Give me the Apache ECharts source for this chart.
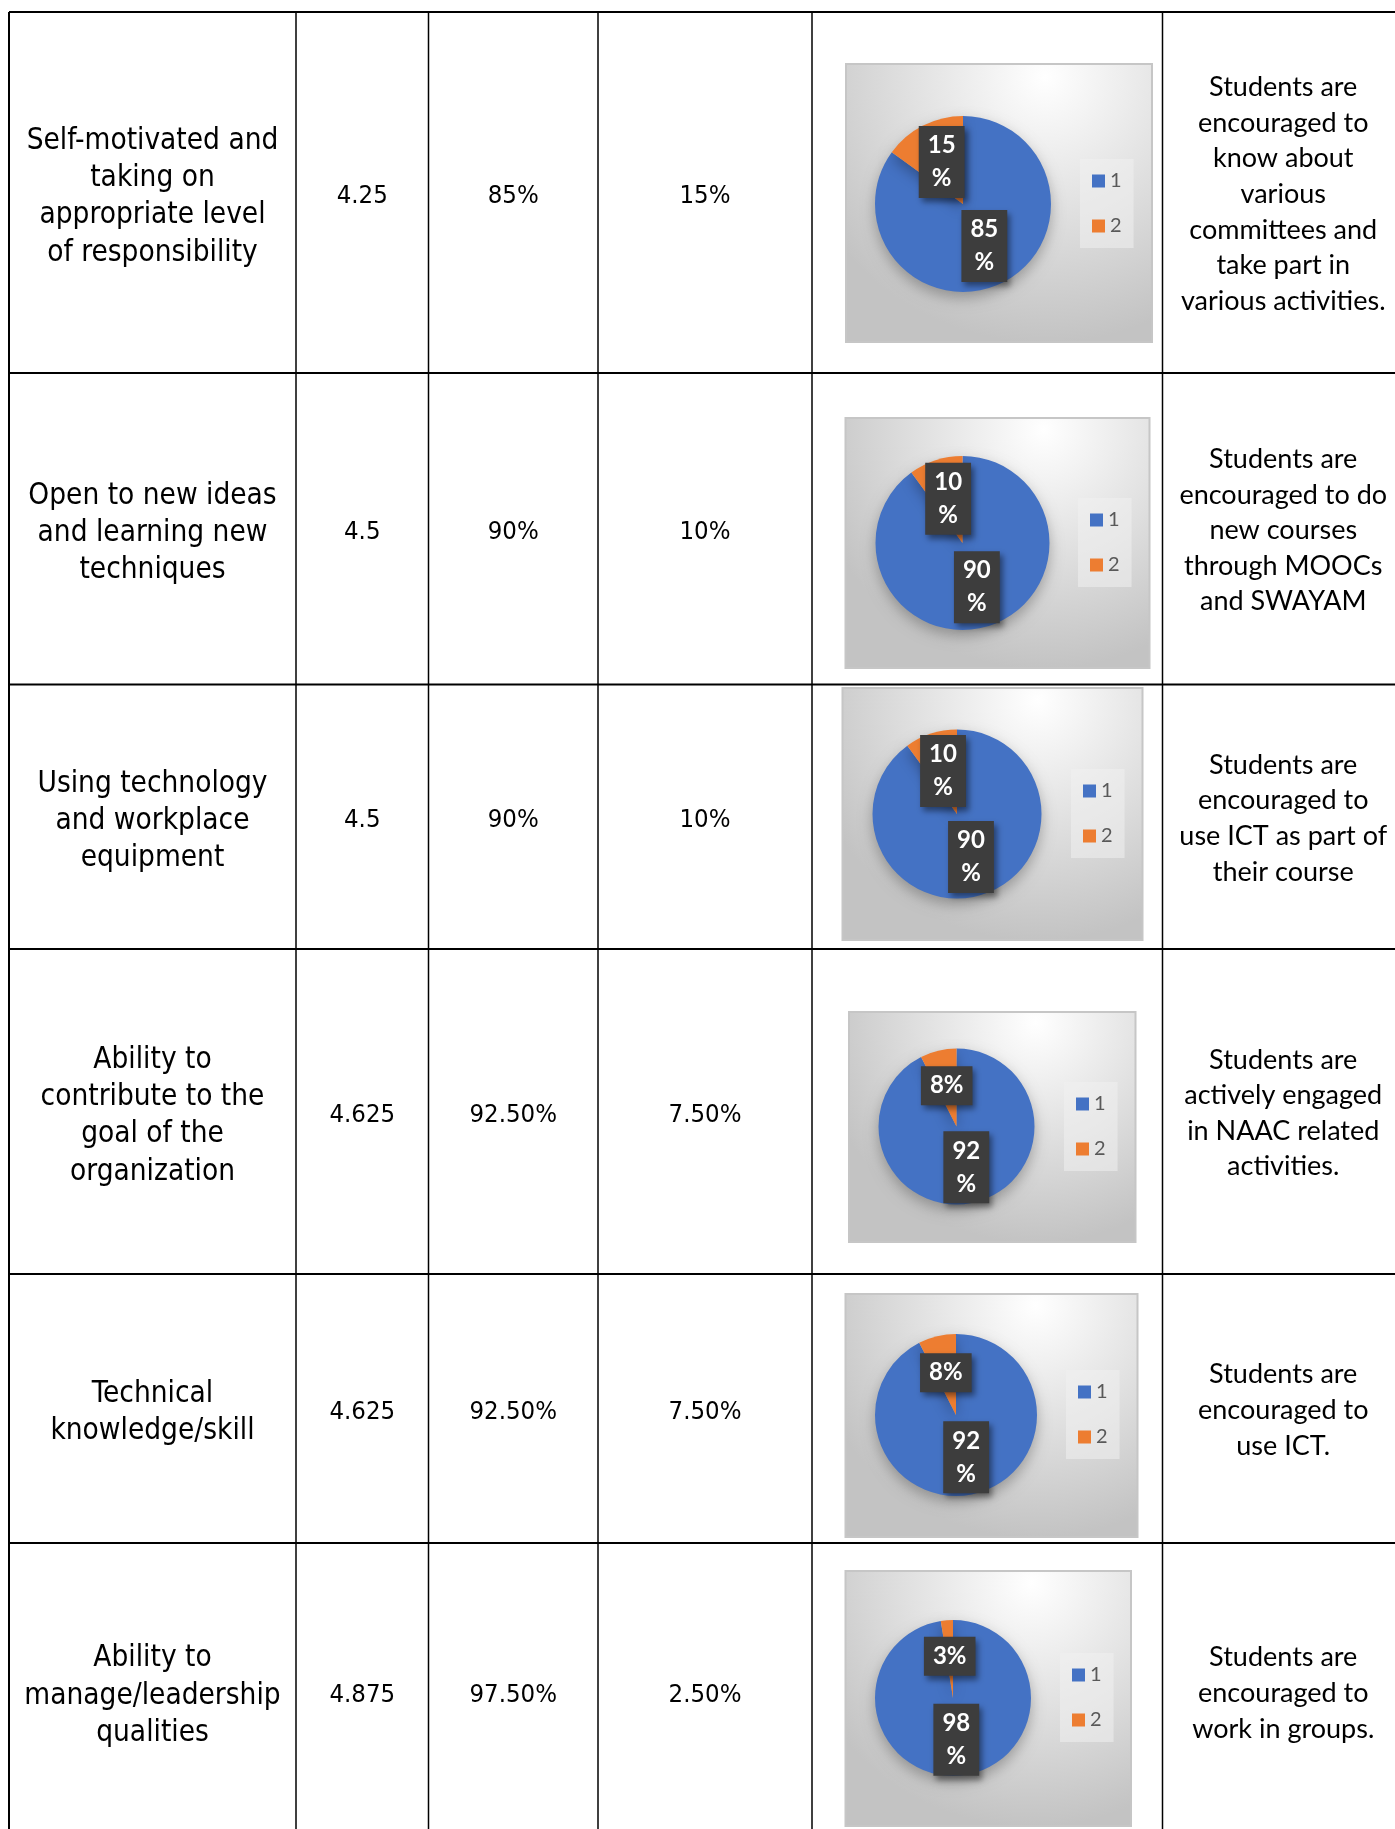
<!DOCTYPE html>
<html>
<head>
<meta charset="utf-8">
<script src="https://cdn.jsdelivr.net/npm/echarts@6/dist/echarts.min.js"></script>
<style>
  html, body { margin: 0; padding: 0; background: #fff; }
  #sheet { width: 1395px; height: 1829px; }
</style>
</head>
<body>
<div id="sheet"></div>
<script>
// table data
const attributes = [
  'Self-motivated and\ntaking on\nappropriate level\nof responsibility',
  'Open to new ideas\nand learning new\ntechniques',
  'Using technology\nand workplace\nequipment',
  'Ability to\ncontribute to the\ngoal of the\norganization',
  'Technical\nknowledge/skill',
  'Ability to\nmanage/leadership\nqualities'
]
const meanScores = ['4.25', '4.5', '4.5', '4.625', '4.625', '4.875']
const agreePct = ['85%', '90%', '90%', '92.50%', '92.50%', '97.50%']
const disagreePct = ['15%', '10%', '10%', '7.50%', '7.50%', '2.50%']
const remarks = [
  'Students are\nencouraged to\nknow about\nvarious\ncommittees and\ntake part in\nvarious activities.',
  'Students are\nencouraged to do\nnew courses\nthrough MOOCs\nand SWAYAM',
  'Students are\nencouraged to\nuse ICT as part of\ntheir course',
  'Students are\nactively engaged\nin NAAC related\nactivities.',
  'Students are\nencouraged to\nuse ICT.',
  'Students are\nencouraged to\nwork in groups.'
]

// pie data
const sliceNames = ['1', '2']
const pieValues = [[85, 15], [90, 10], [90, 10], [92.5, 7.5], [92.5, 7.5], [97.5, 2.5]]
const pieLabels = [
  ['85\n%', '15\n%'],
  ['90\n%', '10\n%'],
  ['90\n%', '10\n%'],
  ['92\n%', '8%'],
  ['92\n%', '8%'],
  ['98\n%', '3%']
]

// layout (pixels)
const colEdges = [9, 296, 428.5, 598, 812, 1162.5, 1404]
const rowEdges = [12, 373, 684.5, 949, 1274, 1543, 1840]
const chartBoxes = [
  [846, 64, 306, 278],
  [845.5, 418, 304, 250],
  [842.5, 688, 300, 252],
  [849, 1012, 286.5, 230],
  [845.5, 1294, 292, 243],
  [845.5, 1571, 285.5, 255]
]
const pieCenters = [[963, 204], [962.5, 543], [957, 814], [956.5, 1126.5], [956, 1415], [953, 1698]]
const pieRadius = [88, 87, 84.5, 78, 81, 78]
const legendPos = [[1080, 159], [1078, 498], [1071, 769], [1064, 1082], [1066, 1370], [1060, 1653]]

const chart = echarts.init(document.getElementById('sheet'))

const graphics = []
// chart backgrounds
chartBoxes.forEach(b => {
  graphics.push({
    type: 'rect',
    z: 0,
    shape: { x: b[0], y: b[1], width: b[2], height: b[3] },
    style: {
      fill: {
        type: 'radial', x: 0.65, y: 0.05, r: 0.95,
        colorStops: [
          { offset: 0, color: '#ffffff' },
          { offset: 0.45, color: '#e4e4e4' },
          { offset: 1, color: '#c3c3c3' }
        ]
      },
      stroke: '#c6c6c6',
      lineWidth: 2
    }
  })
})
// grid lines
rowEdges.forEach(y => {
  graphics.push({ type: 'line', z: 1, shape: { x1: colEdges[0], y1: y, x2: 1395, y2: y }, style: { stroke: '#000', lineWidth: 2 } })
})
colEdges.forEach((x, i) => {
  graphics.push({ type: 'line', z: 1, shape: { x1: x, y1: rowEdges[0], x2: x, y2: 1829 }, style: { stroke: '#000', lineWidth: i === 0 ? 2 : 1.5 } })
})

function cellText(text, col, row, font, size, lh, dy) {
  graphics.push({
    type: 'text',
    z: 1,
    style: {
      text: text,
      x: (colEdges[col] + colEdges[col + 1]) / 2,
      y: (rowEdges[row] + rowEdges[row + 1]) / 2 + dy,
      align: 'center',
      verticalAlign: 'middle',
      fontFamily: font,
      fontSize: size,
      lineHeight: lh,
      fill: '#000'
    }
  })
}

attributes.forEach((t, i) => {
  cellText(t, 0, i, 'DejaVu Sans Condensed', 29.5, 37.3, 4.5)
  cellText(meanScores[i], 1, i, 'DejaVu Sans Condensed', 25.5, 30, 3.5)
  cellText(agreePct[i], 2, i, 'DejaVu Sans Condensed', 25.5, 30, 3.5)
  cellText(disagreePct[i], 3, i, 'DejaVu Sans Condensed', 25.5, 30, 3.5)
  cellText(remarks[i], 5, i, 'Lato', 27, 35.6, 1.8)
})

const series = pieValues.map((vals, i) => ({
  type: 'pie',
  z: 2,
  center: pieCenters[i],
  radius: pieRadius[i],
  startAngle: 90,
  clockwise: true,
  emphasis: { disabled: true },
  data: vals.map((v, j) => ({ name: sliceNames[j], value: v })),
  itemStyle: {
    shadowBlur: 14,
    shadowOffsetY: 6,
    shadowColor: 'rgba(0,0,0,0.28)'
  },
  labelLine: { show: false },
  label: {
    show: true,
    position: 'inside',
    formatter: p => pieLabels[i][p.dataIndex],
    color: '#fff',
    fontFamily: 'Lato',
    fontWeight: 'bold',
    fontSize: 24,
    lineHeight: 33,
    backgroundColor: '#3d3d3d',
    padding: [3, 9],
    shadowBlur: 6,
    shadowOffsetX: 3,
    shadowOffsetY: 4,
    shadowColor: 'rgba(0,0,0,0.45)'
  }
}))

const legends = legendPos.map(p => ({
  orient: 'vertical',
  left: p[0],
  top: p[1],
  data: sliceNames,
  icon: 'rect',
  itemWidth: 13,
  itemHeight: 13,
  itemGap: 25,
  padding: [12, 12, 12, 12],
  backgroundColor: 'rgba(240,240,240,0.55)',
  selectedMode: false,
  textStyle: { fontFamily: 'Lato', fontSize: 20, color: '#595959' }
}))

chart.setOption({
  animation: false,
  color: ['#4472C4', '#ED7D31'],
  graphic: { elements: graphics },
  legend: legends,
  series: series
})
</script>
</body>
</html>
